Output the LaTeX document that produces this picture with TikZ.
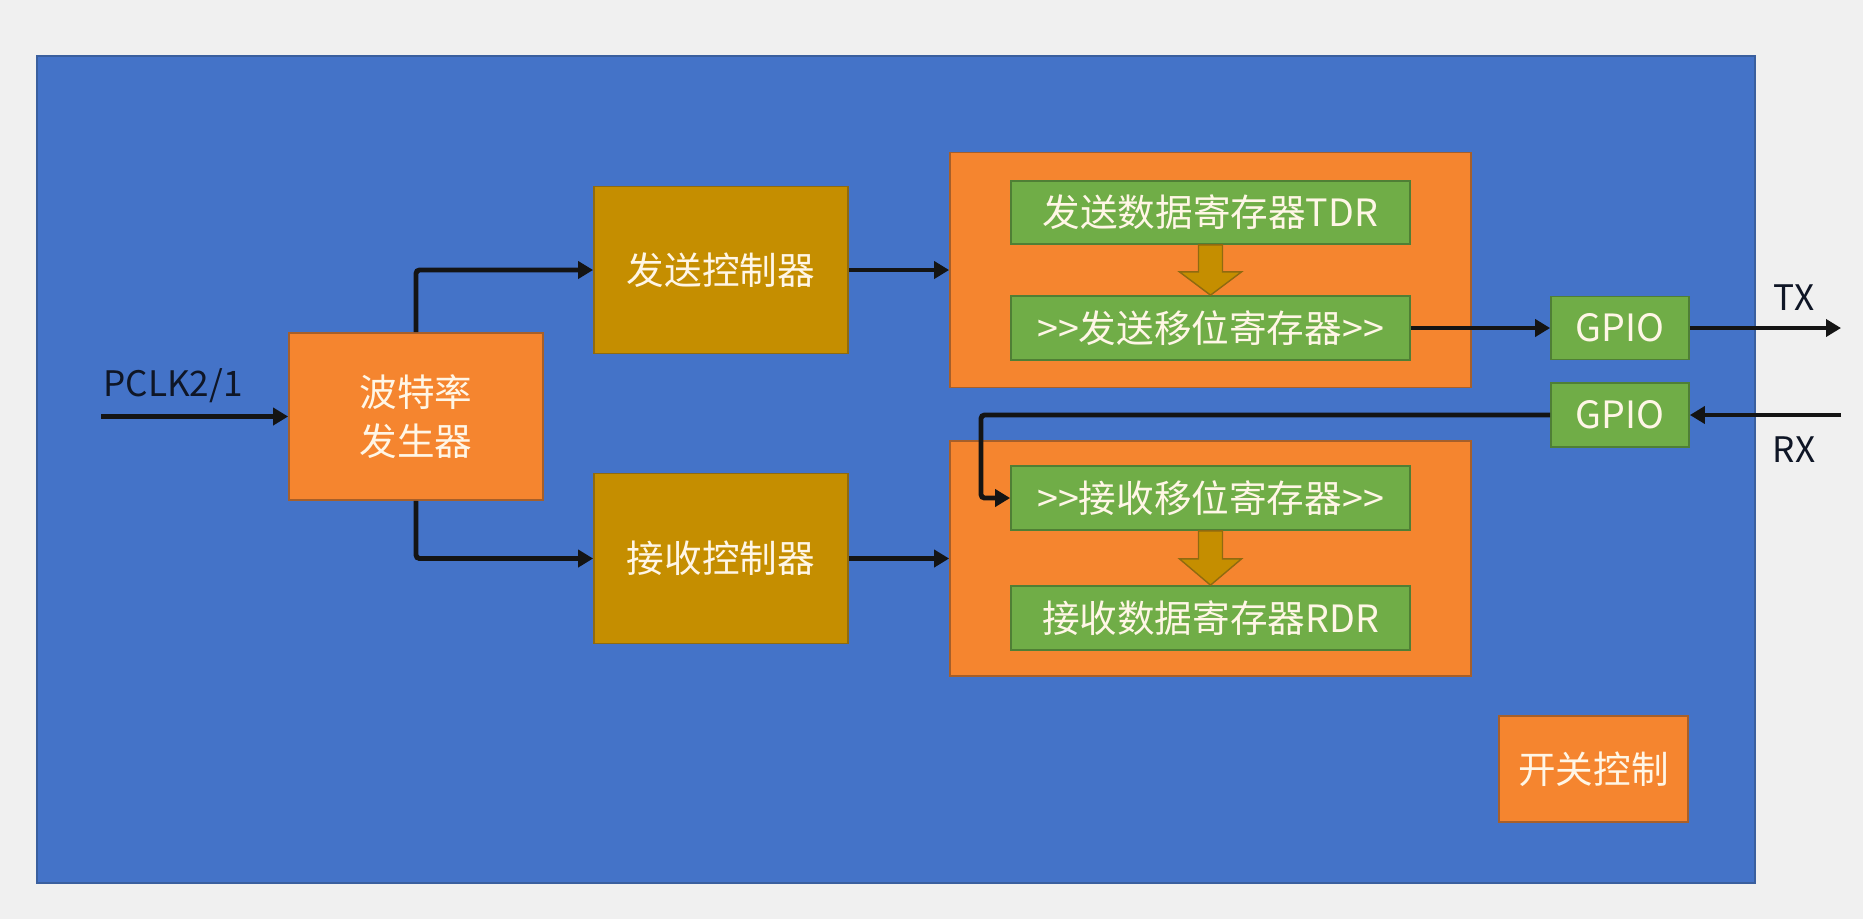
\documentclass[tikz,border=0pt]{standalone}
\usepackage{fontspec}
\setmainfont{Noto Sans CJK SC}
\usepackage{xcolor}
\usetikzlibrary{arrows.meta,calc}
\definecolor{pagebg}{HTML}{F0F0F0}
\definecolor{usartbg}{HTML}{4473C8}
\definecolor{usartline}{HTML}{3A5F9E}
\definecolor{orangebg}{HTML}{F5852F}
\definecolor{orangeline}{HTML}{A65F2A}
\definecolor{goldbg}{HTML}{C58E00}
\definecolor{goldline}{HTML}{8F6A10}
\definecolor{greenbg}{HTML}{70AD47}
\definecolor{greenline}{HTML}{4F7F35}
\definecolor{boxtext}{HTML}{FFF6E6}
\definecolor{sigtext}{HTML}{0F1626}
\tikzset{
  uabox/.style={draw, line width=0.5pt, align=center, inner sep=0pt, text=boxtext, font=\fontsize{10.7}{14}\selectfont},
  orangefill/.style={draw=orangeline, fill=orangebg},
  goldfill/.style={draw=goldline, fill=goldbg},
  greenfill/.style={draw=greenline, fill=greenbg},
  sigarrow/.style={-{Triangle[length=1.5mm,width=1.7mm]}, line width=1.4pt, draw=black!92, rounded corners=1pt},
  siglabel/.style={text=sigtext, font=\fontsize{10}{12}\selectfont},
  shiftarrow/.style={draw=goldline, fill=goldbg, line width=0.4pt}
}

\begin{document}
\begin{tikzpicture}[x=0.1mm,y=-0.1mm]

  % page and usart frame
  \fill[pagebg] (0,0) rectangle (1863,919);
  \draw[usartline, fill=usartbg, line width=0.5pt] (37,56) rectangle (1755,883);

  % clock and controllers
  \node[uabox, orangefill, minimum width=25.4mm, minimum height=16.7mm] (baud) at (416,416.5) {波特率\\发生器};
  \node[uabox, goldfill, minimum width=25.4mm, minimum height=16.7mm] (txctl) at (721,270) {发送控制器};
  \node[uabox, goldfill, minimum width=25.4mm, minimum height=17.0mm] (rxctl) at (721,558.5) {接收控制器};

  % register groups
  \node[uabox, orangefill, minimum width=52.1mm, minimum height=23.5mm] (txgroup) at (1210.5,270) {};
  \node[uabox, orangefill, minimum width=52.1mm, minimum height=23.5mm] (rxgroup) at (1210.5,558.5) {};

  \node[uabox, greenfill, minimum width=39.9mm, minimum height=6.3mm] (tdr) at (1210.5,212.5) {发送数据寄存器TDR};
  \node[uabox, greenfill, minimum width=39.9mm, minimum height=6.4mm] (txshift) at (1210.5,328) {>{}>发送移位寄存器>{}>};
  \node[uabox, greenfill, minimum width=39.9mm, minimum height=6.4mm] (rxshift) at (1210.5,498) {>{}>接收移位寄存器>{}>};
  \node[uabox, greenfill, minimum width=39.9mm, minimum height=6.4mm] (rdr) at (1210.5,618) {接收数据寄存器RDR};

  % pins
  \node[uabox, greenfill, minimum width=13.8mm, minimum height=6.3mm] (gpiotx) at (1620,328) {GPIO};
  \node[uabox, greenfill, minimum width=13.8mm, minimum height=6.4mm] (gpiorx) at (1620,415) {GPIO};

  \node[uabox, orangefill, minimum width=18.9mm, minimum height=10.6mm] (enable) at (1593.5,769) {开关控制};

  % labels
  \node[siglabel] (pclk) at (173,386) {PCLK2/1};
  \node[siglabel] (txlab) at (1794,298) {TX};
  \node[siglabel] (rxlab) at (1794,450) {RX};

  % shift arrows between registers
  \draw[shiftarrow] ($(tdr.south)+(-12,0)$) -- ($(tdr.south)+(12,0)$) -- ($(tdr.south)+(12,27)$)
    -- ($(tdr.south)+(31,27)$) -- (txshift.north) -- ($(tdr.south)+(-31,27)$) -- ($(tdr.south)+(-12,27)$) -- cycle;
  \draw[shiftarrow] ($(rxshift.south)+(-12,0)$) -- ($(rxshift.south)+(12,0)$) -- ($(rxshift.south)+(12,28)$)
    -- ($(rxshift.south)+(31,28)$) -- (rdr.north) -- ($(rxshift.south)+(-31,28)$) -- ($(rxshift.south)+(-12,28)$) -- cycle;

  % signal arrows
  \coordinate (pclkin) at (101,416.5);
  \coordinate (txout) at (1841,328);
  \coordinate (rxin) at (1841,415);
  \coordinate (rxbend) at (981,415);

  \draw[sigarrow] (pclkin) -- (baud.west);
  \draw[sigarrow] (baud.north) |- (txctl.west);
  \draw[sigarrow] (baud.south) |- (rxctl.west);
  \draw[sigarrow] (txctl.east) -- (txgroup.west);
  \draw[sigarrow] (rxctl.east) -- (rxgroup.west);
  \draw[sigarrow] (txshift.east) -- (gpiotx.west);
  \draw[sigarrow] (gpiotx.east) -- (txout);
  \draw[sigarrow] (rxin) -- (gpiorx.east);
  \draw[sigarrow] (gpiorx.west) -- (rxbend) |- (rxshift.west);

\end{tikzpicture}
\end{document}
